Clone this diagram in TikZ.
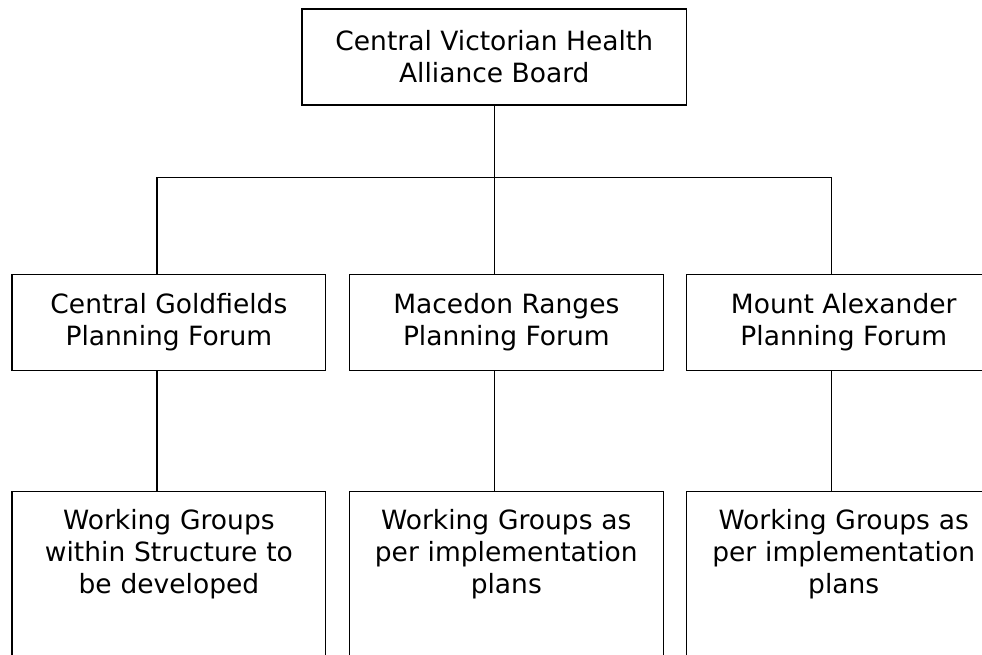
\documentclass[tikz,border=0pt]{standalone}
\usepackage{fontspec}
\setmainfont{DejaVu Sans}
\usetikzlibrary{positioning}

\begin{document}
\begin{tikzpicture}[
    x=1pt, y=-1pt,
    % Styles
    boardbox/.style={rectangle, draw=black, line width=1.2pt, minimum width=384.7pt, minimum height=96pt, inner sep=0pt, align=center, font=\fontsize{26.5}{32}\selectfont},
    forumbox/.style={rectangle, draw=black, line width=1.2pt, minimum width=313.7pt, minimum height=96pt, inner sep=0pt, align=center, font=\fontsize{26.5}{32}\selectfont},
    groupbox/.style={rectangle, draw=black, line width=1.2pt, minimum width=313.7pt, text width=300pt, inner xsep=0pt, inner ysep=18pt, text height=20pt, text depth=220pt, align=center, font=\fontsize{26.5}{32}\selectfont},
    linkstyle/.style={line width=1.2pt, color=black},
]

% === CANVAS ===
\useasboundingbox (0,0) rectangle (982,654);
\clip (0,0) rectangle (982,654);

% === BOARD ===
\node[boardbox] (board) at (494.3,57) {Central Victorian Health\\Alliance Board};

% === PLANNING FORUMS ===
\node[forumbox, below=168pt of board, xshift=12pt] (mr) {Macedon Ranges\\Planning Forum};
\node[forumbox, left=22.5pt of mr] (cg) {Central Goldfields\\Planning Forum};
\node[forumbox, right=22.5pt of mr] (ma) {Mount Alexander\\Planning Forum};

% === WORKING GROUPS ===
\node[groupbox, below=120pt of cg] (wgcg) {Working Groups\\within Structure to\\be developed};
\node[groupbox, below=120pt of mr] (wgmr) {Working Groups as\\per implementation\\plans};
\node[groupbox, below=120pt of ma] (wgma) {Working Groups as\\per implementation\\plans};

% === CONNECTORS ===
\coordinate[below=72pt of board] (split);
\draw[linkstyle] (board) -- (split);
\draw[linkstyle] ([xshift=-12pt]cg.north) |- (split) -| ([xshift=-12pt]ma.north);
\draw[linkstyle] (split) -- (split |- mr.north);
\foreach \f in {cg, mr, ma}
    \draw[linkstyle] ([xshift=-12pt]\f.south) -- ([xshift=-12pt]wg\f.north);

\end{tikzpicture}
\end{document}
